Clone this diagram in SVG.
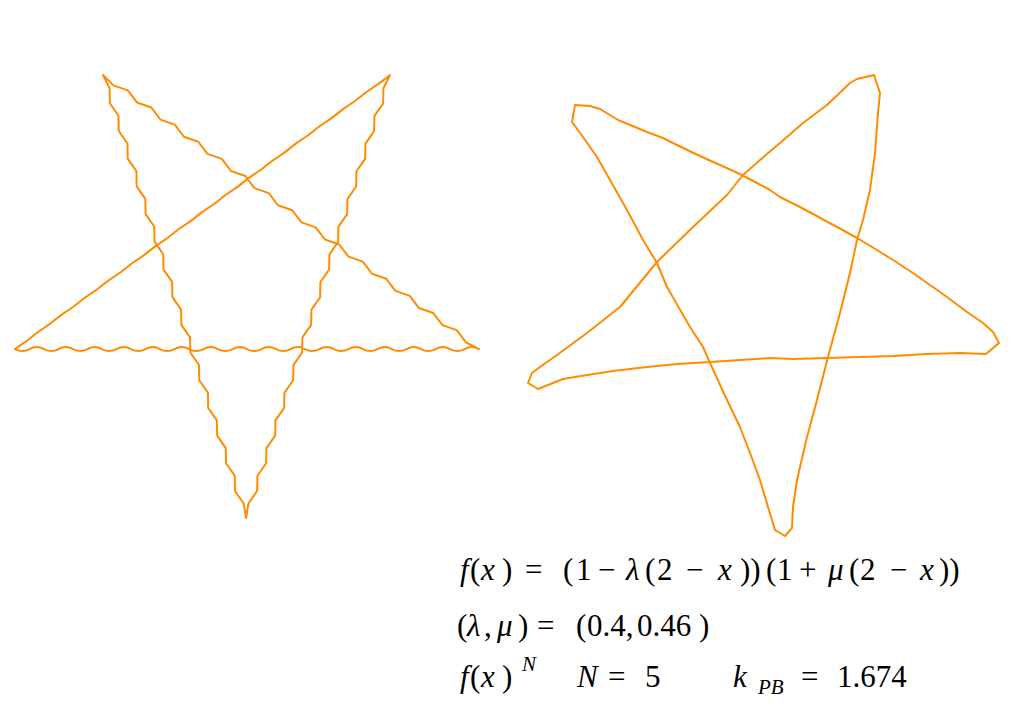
<svg xmlns="http://www.w3.org/2000/svg" width="1010" height="714" viewBox="0 0 1010 714">
<rect width="1010" height="714" fill="#fff"/>
<g id="star-left">
<path fill="none" stroke="#FF8C00" stroke-width="2" stroke-linejoin="round" stroke-linecap="round" d="M103,75 l10.45,10.34 14.34,5.01 9.16,12.12 14.34,5.01 9.16,12.12 14.34,5.01 9.16,12.12 14.34,5.01 9.16,12.12 14.34,5.01 9.16,12.12 14.34,5.01 9.16,12.12 14.34,5.01 9.16,12.12 14.34,5.01 9.16,12.12 14.34,5.01 9.16,12.12 14.34,5.01 9.16,12.12 14.34,5.01 9.16,12.12 14.34,5.01 9.16,12.12 14.34,5.01 9.16,12.12 14.34,5.01 9.16,12.12 14.34,5.01 9.16,12.12 13.05,6.78
q-7.25,-4 -14.5,0 t-14.5,0 -14.5,0 -14.5,0 -14.5,0 -14.5,0 -14.5,0 -14.5,0 -14.5,0 -14.5,0 -14.5,0 -14.5,0 -14.5,0 -14.5,0 -14.5,0 -14.5,0 -14.5,0 -14.5,0 -14.5,0 -14.5,0 -14.5,0 -14.5,0 -14.5,0 -14.5,0 -14.5,0 -14.5,0 -14.5,0 -14.5,0 -14.5,0 -14.5,0 -14.5,0 -14.5,0
l11.87,-8.36 11.425,-8.966 12.015,-8.158 11.425,-8.966 12.015,-8.158 11.425,-8.966 12.015,-8.158 11.425,-8.966 12.015,-8.158 11.425,-8.966 12.015,-8.158 11.425,-8.966 12.015,-8.158 11.425,-8.966 12.015,-8.158 11.425,-8.966 12.015,-8.158 11.425,-8.966 12.015,-8.158 11.425,-8.966 12.015,-8.158 11.425,-8.966 12.015,-8.158 11.425,-8.966 12.015,-8.158 11.425,-8.966 12.015,-8.158 11.425,-8.966 12.015,-8.158 11.425,-8.966 12.015,-8.158 11.57,-8.76
l-6.59,13.16 -0.32,15.2 -8.68,12.48 -0.32,15.2 -8.68,12.48 -0.32,15.2 -8.68,12.48 -0.32,15.2 -8.68,12.48 -0.32,15.2 -8.68,12.48 -0.32,15.2 -8.68,12.48 -0.32,15.2 -8.68,12.48 -0.32,15.2 -8.68,12.48 -0.32,15.2 -8.68,12.48 -0.32,15.2 -8.68,12.48 -0.32,15.2 -8.68,12.48 -0.32,15.2 -8.68,12.48 -0.32,15.2 -8.68,12.48 -0.32,15.2 -8.68,12.48 -0.32,15.2 -8.68,12.48 -2.41,14.52
l-2.38,-14.52 -8.66,-12.49 -0.28,-15.2 -8.66,-12.49 -0.28,-15.2 -8.66,-12.49 -0.28,-15.2 -8.66,-12.49 -0.28,-15.2 -8.66,-12.49 -0.28,-15.2 -8.66,-12.49 -0.28,-15.2 -8.66,-12.49 -0.28,-15.2 -8.66,-12.49 -0.28,-15.2 -8.66,-12.49 -0.28,-15.2 -8.66,-12.49 -0.28,-15.2 -8.66,-12.49 -0.28,-15.2 -8.66,-12.49 -0.28,-15.2 -8.66,-12.49 -0.28,-15.2 -8.66,-12.49 -0.28,-15.2 -8.66,-12.49 -0.28,-15.2 -6.56,-13.17 Z"/>
</g>
<g id="star-right">
<path fill="none" stroke="#FF8C00" stroke-width="2" stroke-linejoin="round" stroke-linecap="round" d="M572,122 L575,105 L590,106 L600,109 L618,120 L647,132 L663,138 L677,145 L702,157 L720,165 L742,175 L757,183 L770,190 L780,197 L800,207 L813,214 L837,227 L857,238 L877,250 L893,260 L913,273 L930,285 L947,297 L967,312 L983,323 L993,332 L999,343 L986,354 L960,353 L927,354 L893,356 L860,357 L827,358 L793,359 L770,358 L740,360 L710,362 L677,364 L647,367 L613,371 L587,375 L563,379 L538,389 L528,383 L532,373 L540,367 L557,355 L587,333 L620,307 L657,262 L693,227 L727,195 L743,175 L760,160 L780,143 L803,123 L827,105 L850,83 L857,79 L874,75 L880,93 L878,113 L875,153 L870,190 L863,220 L857,240 L850,273 L840,313 L828,357 L817,400 L807,437 L797,480 L793,507 L792,528 L785,536 L775,530 L768,507 L760,480 L750,453 L740,427 L727,400 L710,363 L703,347 L690,327 L667,287 L657,263 L643,240 L627,210 L610,180 L597,157 L583,137 Z"/>
</g>
<g id="formula">
<text x="460" y="580" font-family="Liberation Serif" font-size="31" font-style="italic">f</text>
<text x="470" y="580" font-family="Liberation Serif" font-size="31">(</text>
<text x="481" y="580" font-family="Liberation Serif" font-size="31" font-style="italic">x</text>
<text x="502" y="580" font-family="Liberation Serif" font-size="31">)</text>
<text x="525" y="580" font-family="Liberation Serif" font-size="31">=</text>
<text x="563" y="580" font-family="Liberation Serif" font-size="31">(</text>
<text x="576" y="580" font-family="Liberation Serif" font-size="31">1</text>
<text x="598" y="580" font-family="Liberation Serif" font-size="31">−</text>
<text x="626" y="580" font-family="Liberation Serif" font-size="31" font-style="italic">λ</text>
<text x="645" y="580" font-family="Liberation Serif" font-size="31">(</text>
<text x="657" y="580" font-family="Liberation Serif" font-size="31">2</text>
<text x="686" y="580" font-family="Liberation Serif" font-size="31">−</text>
<text x="718" y="580" font-family="Liberation Serif" font-size="31" font-style="italic">x</text>
<text x="740" y="580" font-family="Liberation Serif" font-size="31">))</text>
<text x="766" y="580" font-family="Liberation Serif" font-size="31">(</text>
<text x="777" y="580" font-family="Liberation Serif" font-size="31">1</text>
<text x="799" y="580" font-family="Liberation Serif" font-size="31">+</text>
<text x="828" y="580" font-family="Liberation Serif" font-size="31" font-style="italic">μ</text>
<text x="849" y="580" font-family="Liberation Serif" font-size="31">(</text>
<text x="860" y="580" font-family="Liberation Serif" font-size="31">2</text>
<text x="890" y="580" font-family="Liberation Serif" font-size="31">−</text>
<text x="920" y="580" font-family="Liberation Serif" font-size="31" font-style="italic">x</text>
<text x="939" y="580" font-family="Liberation Serif" font-size="31">))</text>
<text x="457" y="636" font-family="Liberation Serif" font-size="31">(</text>
<text x="467" y="636" font-family="Liberation Serif" font-size="31" font-style="italic">λ</text>
<text x="484" y="636" font-family="Liberation Serif" font-size="31">,</text>
<text x="497" y="636" font-family="Liberation Serif" font-size="31" font-style="italic">μ</text>
<text x="518" y="636" font-family="Liberation Serif" font-size="31">)</text>
<text x="537" y="636" font-family="Liberation Serif" font-size="31">=</text>
<text x="576" y="636" font-family="Liberation Serif" font-size="31">(</text>
<text x="587" y="636" font-family="Liberation Serif" font-size="31">0.4,</text>
<text x="637" y="636" font-family="Liberation Serif" font-size="31">0.46</text>
<text x="699" y="636" font-family="Liberation Serif" font-size="31">)</text>
<text x="460" y="687" font-family="Liberation Serif" font-size="31" font-style="italic">f</text>
<text x="470" y="687" font-family="Liberation Serif" font-size="31">(</text>
<text x="481" y="687" font-family="Liberation Serif" font-size="31" font-style="italic">x</text>
<text x="502" y="687" font-family="Liberation Serif" font-size="31">)</text>
<text x="522" y="671" font-family="Liberation Serif" font-size="21" font-style="italic">N</text>
<text x="577" y="687" font-family="Liberation Serif" font-size="31" font-style="italic">N</text>
<text x="608" y="687" font-family="Liberation Serif" font-size="31">=</text>
<text x="645" y="687" font-family="Liberation Serif" font-size="31">5</text>
<text x="733" y="687" font-family="Liberation Serif" font-size="31" font-style="italic">k</text>
<text x="758" y="694" font-family="Liberation Serif" font-size="21" font-style="italic">PB</text>
<text x="801" y="687" font-family="Liberation Serif" font-size="31">=</text>
<text x="837" y="687" font-family="Liberation Serif" font-size="31">1.674</text>
</g>
</svg>
